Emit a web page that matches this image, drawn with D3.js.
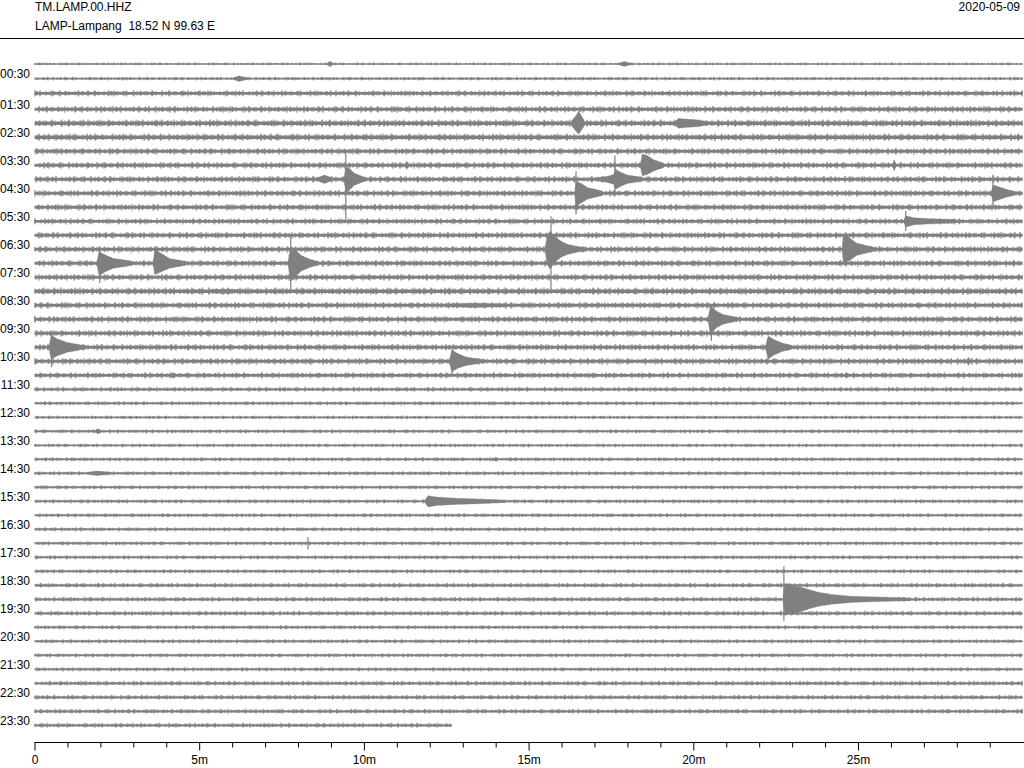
<!DOCTYPE html>
<html>
<head>
<meta charset="utf-8">
<script src="https://cdn.jsdelivr.net/npm/d3@7"></script>
<style>
  body { margin: 0; background: #fff; }
  svg { display: block; font-family: "Liberation Sans", Arial, sans-serif; }
</style>
</head>
<body>
<svg id="chart" width="1024" height="768"></svg>
<script>
const station = "TM.LAMP.00.HHZ";
const stationInfo = "LAMP-Lampang  18.52 N 99.63 E";
const dayLabel = "2020-05-09";

const rowMinutes = 30;           // each line is 30 minutes
const rowCount = 48;             // 00:00 .. 23:30
const lastRowEnd = 12.67;        // last line stops here (minutes)

const rowLabels = ["00:30","01:30","02:30","03:30","04:30","05:30","06:30","07:30",
  "08:30","09:30","10:30","11:30","12:30","13:30","14:30","15:30","16:30","17:30",
  "18:30","19:30","20:30","21:30","22:30","23:30"];

const majorTicks = [0, 5, 10, 15, 20, 25];
const majorTickLabels = ["0", "5m", "10m", "15m", "20m", "25m"];
const minorTicks = [1,2,3,4,6,7,8,9,11,12,13,14,16,17,18,19,21,22,23,24,26,27,28,29];

// small DC shift of the first lines (row units)
const rowShift = [-0.24, -0.19, -0.14];

// background noise half-amplitude per line (row units)
const noiseLevel = [
  0.05,0.06,0.10,0.11,0.12,0.12,0.11,0.11,0.11,0.11,0.11,0.10,
  0.11,0.11,0.11,0.11,0.12,0.11,0.11,0.11,0.11,0.11,0.10,0.08,
  0.07,0.06,0.07,0.06,0.07,0.07,0.07,0.07,0.07,0.07,0.07,0.07,
  0.07,0.08,0.08,0.08,0.07,0.07,0.07,0.07,0.08,0.08,0.08,0.08];

// events: [row, envelope [[minute, up, down], ...]] (row units)
const events = [
  [0,  [[8.90,0.08,0.08],[8.97,0.20,0.20],[9.05,0.08,0.08]]],
  [0,  [[17.75,0.06,0.06],[17.90,0.18,0.18],[18.10,0.06,0.06]]],
  [1,  [[6.05,0.07,0.07],[6.20,0.20,0.20],[6.45,0.07,0.07]]],
  [4,  [[16.30,0.15,0.15],[16.45,0.60,0.60],[16.52,0.88,0.79],[16.60,0.55,0.50],[16.70,0.15,0.15]]],
  [4,  [[19.45,0.12,0.12],[19.55,0.35,0.35],[19.75,0.30,0.30],[20.10,0.25,0.25],[20.40,0.12,0.12]]],
  [7,  [[18.40,0.15,0.15],[18.45,0.80,0.75],[18.60,0.70,0.65],[18.80,0.40,0.40],[19.10,0.15,0.15]]],
  [7,  [[26.05,0.10,0.10],[26.10,0.40,0.40],[26.15,0.10,0.10]]],
  [7,  [[11.25,0.10,0.10],[11.30,0.30,0.30],[11.35,0.10,0.10]]],
  [8,  [[8.60,0.12,0.12],[8.80,0.30,0.30],[9.00,0.12,0.12]]],
  [8,  [[9.40,0.15,0.15],[9.45,0.90,0.95],[9.55,0.80,0.80],[9.70,0.45,0.45],[9.90,0.25,0.25],[10.05,0.12,0.12]]],
  [8,  [[17.10,0.12,0.12],[17.40,0.22,0.22],[17.58,0.35,0.35],[17.63,0.72,0.72],[17.80,0.50,0.50],[18.00,0.30,0.30],[18.30,0.20,0.20],[18.45,0.12,0.12]]],
  [9,  [[16.40,0.15,0.15],[16.44,0.86,0.93],[16.60,0.70,0.70],[16.80,0.40,0.40],[17.00,0.30,0.30],[17.25,0.15,0.15]]],
  [9,  [[29.05,0.15,0.15],[29.10,0.60,0.60],[29.30,0.45,0.45],[29.55,0.25,0.25],[29.75,0.15,0.15]]],
  [11, [[26.40,0.12,0.12],[26.45,0.40,0.40],[26.70,0.25,0.25],[27.20,0.18,0.18],[28.00,0.12,0.12]]],
  [13, [[15.50,0.15,0.15],[15.57,1.00,1.10],[15.65,1.30,1.40],[15.80,0.90,0.90],[16.00,0.55,0.55],[16.20,0.35,0.35],[16.50,0.20,0.20],[16.70,0.12,0.12]]],
  [13, [[24.52,0.15,0.15],[24.56,1.15,1.00],[24.75,0.80,0.80],[24.95,0.45,0.45],[25.20,0.30,0.30],[25.50,0.12,0.12]]],
  [14, [[1.90,0.15,0.15],[1.96,0.85,0.90],[2.15,0.60,0.60],[2.40,0.35,0.35],[2.70,0.25,0.25],[3.00,0.12,0.12]]],
  [14, [[3.60,0.15,0.15],[3.66,1.00,0.80],[3.85,0.70,0.60],[4.10,0.35,0.35],[4.40,0.22,0.22],[4.60,0.12,0.12]]],
  [14, [[7.70,0.15,0.15],[7.77,1.20,1.30],[7.90,1.00,1.00],[8.10,0.55,0.55],[8.35,0.30,0.30],[8.60,0.12,0.12]]],
  [16, [[5.30,0.10,0.10],[5.80,0.15,0.15],[6.30,0.10,0.10]]],
  [17, [[12.50,0.10,0.10],[13.30,0.15,0.15],[14.30,0.10,0.10]]],
  [18, [[20.45,0.15,0.15],[20.52,0.95,1.07],[20.70,0.60,0.60],[20.90,0.35,0.35],[21.20,0.20,0.20],[21.35,0.12,0.12]]],
  [20, [[0.45,0.15,0.15],[0.50,0.85,0.85],[0.70,0.60,0.60],[1.00,0.35,0.35],[1.30,0.22,0.22],[1.50,0.12,0.12]]],
  [20, [[22.20,0.15,0.15],[22.27,0.80,0.85],[22.45,0.55,0.55],[22.70,0.30,0.30],[23.00,0.12,0.12]]],
  [21, [[12.60,0.15,0.15],[12.67,0.80,0.75],[12.85,0.55,0.50],[13.10,0.30,0.30],[13.40,0.20,0.20],[13.60,0.12,0.12]]],
  [21, [[28.30,0.08,0.08],[28.35,0.30,0.30],[28.40,0.08,0.08]]],
  [22, [[4.15,0.08,0.08],[4.20,0.22,0.22],[4.25,0.08,0.08]]],
  [22, [[24.60,0.08,0.08],[24.65,0.22,0.22],[24.70,0.08,0.08]]],
  [26, [[1.85,0.06,0.06],[1.93,0.20,0.20],[2.00,0.06,0.06]]],
  [28, [[13.95,0.06,0.06],[14.00,0.15,0.15],[14.05,0.06,0.06]]],
  [29, [[1.60,0.07,0.07],[1.90,0.16,0.16],[2.30,0.07,0.07]]],
  [31, [[11.85,0.08,0.08],[11.95,0.40,0.40],[12.20,0.30,0.30],[12.80,0.22,0.22],[13.50,0.17,0.17],[14.30,0.08,0.08]]],
  [38, [[22.72,0.12,0.12],[22.78,1.15,1.15],[23.00,1.00,1.00],[23.30,0.85,0.85],[23.50,0.70,0.70],[23.80,0.50,0.50],[24.20,0.35,0.35],[24.80,0.22,0.22],[25.60,0.16,0.16],[26.60,0.10,0.10]]]
];

// single large swings: [row, minute, up, down] (row units)
const spikes = [
  [8, 9.45, 1.93, 2.86],
  [8, 17.62, 1.70, 1.07],
  [9, 16.44, 1.57, 1.52],
  [9, 29.10, 1.34, 0.93],
  [11, 26.45, 0.75, 0.70],
  [13, 15.68, 2.36, 2.86],
  [14, 1.98, 0.90, 1.40],
  [14, 3.66, 1.20, 0.80],
  [14, 7.78, 2.05, 1.88],
  [18, 20.55, 1.00, 1.55],
  [20, 0.52, 0.90, 1.43],
  [21, 12.68, 0.80, 0.95],
  [34, 8.30, 0.45, 0.45],
  [38, 22.75, 2.36, 1.55]
];

// ---- layout ----
const svg = d3.select("#chart");
const W = 1024;
const traceColor = "#808080";

const x = d3.scaleLinear().domain([0, rowMinutes]).range([34.5, 1022.7]);
const yRow = d3.scaleLinear().domain([0, rowCount - 1]).range([67.3, 725.3]);
const amp = d3.scaleLinear().domain([0, 1]).range([0, yRow(1) - yRow(0)]);
const rowY = i => yRow(i) + amp(rowShift[i] || 0);

// ---- header ----
svg.append("text").attr("x", 35).attr("y", 11).attr("font-size", 12).text(station);
svg.append("text").attr("x", 35).attr("y", 30).attr("font-size", 12)
  .style("white-space", "pre").text(stationInfo);
svg.append("text").attr("x", 1020).attr("y", 11).attr("font-size", 12)
  .attr("text-anchor", "end").text(dayLabel);
svg.append("line").attr("x1", 0).attr("x2", W).attr("y1", 38.5).attr("y2", 38.5)
  .attr("stroke", "#000").attr("stroke-width", 1);

// ---- traces ----
const traces = svg.append("g");
d3.range(rowCount).forEach(i => {
  const end = i === rowCount - 1 ? lastRowEnd : rowMinutes;
  const yc = rowY(i);
  const n = amp(noiseLevel[i]);
  const band = (w, dash, off) => traces.append("line")
    .attr("x1", x(0)).attr("x2", x(end)).attr("y1", yc).attr("y2", yc)
    .attr("stroke", traceColor).attr("stroke-width", w)
    .attr("stroke-dasharray", dash).attr("stroke-dashoffset", off);
  band(Math.max(1.2, 2 * n), null, 0);                              // solid noise band
  band(2 * n * 1.6, "1 2 2 3 1 1 1 4 2 2 1 5 1 3", i * 7);          // grain
  band(2 * n * 2.2, "1 9 1 6 1 13 1 4 1 11 1 7 1 17", i * 13 + 5);  // sparse peaks
});

// event envelopes
const area = d3.area()
  .x(d => x(d[0]))
  .y0(d => d.yc - amp(d[1]))
  .y1(d => d.yc + amp(d[2]));

events.forEach(([row, env]) => {
  const yc = rowY(row);
  const pts = env.map(p => Object.assign([...p], { yc }));
  traces.append("path").datum(pts)
    .attr("d", area).attr("fill", traceColor).attr("stroke", traceColor)
    .attr("stroke-width", 0.8).attr("stroke-dasharray", "1 1.5");
});

// spikes
traces.selectAll("line.spike").data(spikes).enter().append("line")
  .attr("class", "spike")
  .attr("x1", d => x(d[1])).attr("x2", d => x(d[1]))
  .attr("y1", d => rowY(d[0]) - amp(d[2]))
  .attr("y2", d => rowY(d[0]) + amp(d[3]))
  .attr("stroke", traceColor).attr("stroke-width", 1.2);

// ---- hour labels (every second line) ----
svg.append("g").selectAll("text").data(rowLabels).enter().append("text")
  .attr("x", 30).attr("y", (d, k) => rowY(2 * k + 1) - 4.5)
  .attr("dy", "0.35em").attr("text-anchor", "end").attr("font-size", 12)
  .attr("fill", "#000").text(d => d);

// ---- time axis ----
const axisY = 742.5;
svg.append("line").attr("x1", x(0)).attr("x2", W).attr("y1", axisY).attr("y2", axisY)
  .attr("stroke", "#000");

const gMinor = svg.append("g").attr("transform", `translate(0,${axisY})`)
  .call(d3.axisBottom(x).tickValues(minorTicks).tickSize(5).tickFormat(""));
const gMajor = svg.append("g").attr("transform", `translate(0,${axisY})`)
  .call(d3.axisBottom(x).tickValues(majorTicks).tickSize(8).tickPadding(5)
    .tickFormat((d, k) => majorTickLabels[k]));
[gMinor, gMajor].forEach(g => {
  g.select(".domain").remove();
  g.attr("font-family", null).attr("font-size", 12);
  g.selectAll("line").attr("stroke", "#000");
  g.selectAll("text").attr("fill", "#000");
});
</script>
</body>
</html>
